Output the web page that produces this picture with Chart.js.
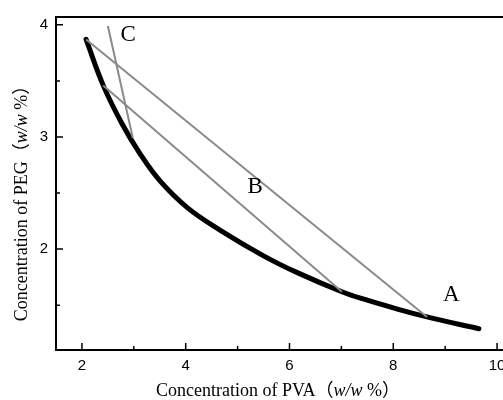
<!DOCTYPE html>
<html>
<head>
<meta charset="utf-8">
<script src="https://cdn.jsdelivr.net/npm/chart.js@4.4.1/dist/chart.umd.min.js"></script>
<style>
  html, body { margin: 0; padding: 0; background: #fff; overflow: hidden; width: 503px; height: 400px; }
  #wrap { width: 540px; height: 400px; }
</style>
</head>
<body>
<div id="wrap"><canvas id="c" width="540" height="400"></canvas></div>
<script>
// Binodal curve (PVA %, PEG %)
const curveX = [2.08, 2.41, 2.77, 3.12, 3.50, 4.03, 4.66, 5.50, 6.15, 7.01, 7.42, 8.08, 8.65, 9.65];
const curveY = [3.87, 3.46, 3.12, 2.85, 2.61, 2.37, 2.17, 1.94, 1.79, 1.62, 1.555, 1.465, 1.395, 1.29];
// Tie lines
const tieAX = [2.08, 8.65], tieAY = [3.87, 1.395];
const tieBX = [2.41, 7.01], tieBY = [3.46, 1.62];
const tieCX = [2.50, 2.98], tieCY = [3.99, 2.99];
// Point labels
const labelText = ['A', 'B', 'C'];
const labelX = [9.12, 5.34, 2.89];
const labelY = [1.59, 2.55, 3.91];
// Ticks
const xTicks = [2, 4, 6, 8, 10];
const xMinor = [3, 5, 7, 9];
const yTicks = [2, 3, 4];
const yMinor = [1.5, 2.5, 3.5];
const xTitle = [['Concentration of PVA', false], ['（', false], ['w/w', true], [' %）', false]];
const yTitle = [['Concentration of PEG', false], ['（', false], ['w/w', true], [' %）', false]];

const pts = (xs, ys) => xs.map((x, i) => ({ x: x, y: ys[i] }));
const SERIF = '"Liberation Serif", "Times New Roman", "Noto Sans CJK SC", serif';
const SANS = '"Liberation Sans", Arial, sans-serif';

const decor = {
  id: 'decor',
  afterDraw(chart) {
    const ctx = chart.ctx, a = chart.chartArea;
    const xs = chart.scales.x, ys = chart.scales.y;
    ctx.save();
    // frame
    ctx.strokeStyle = '#000';
    ctx.lineWidth = 2;
    ctx.strokeRect(a.left, a.top, a.right - a.left, a.bottom - a.top);
    // inward ticks
    ctx.lineWidth = 1.5;
    ctx.beginPath();
    xTicks.forEach(v => { const p = xs.getPixelForValue(v); ctx.moveTo(p, a.bottom); ctx.lineTo(p, a.bottom - 7); });
    xMinor.forEach(v => { const p = xs.getPixelForValue(v); ctx.moveTo(p, a.bottom); ctx.lineTo(p, a.bottom - 4); });
    yTicks.forEach(v => { const p = ys.getPixelForValue(v); ctx.moveTo(a.left, p); ctx.lineTo(a.left + 7, p); });
    yMinor.forEach(v => { const p = ys.getPixelForValue(v); ctx.moveTo(a.left, p); ctx.lineTo(a.left + 4, p); });
    ctx.stroke();
    // labels A B C
    ctx.fillStyle = '#000';
    ctx.font = '23px ' + SERIF;
    ctx.textAlign = 'center';
    ctx.textBaseline = 'middle';
    labelText.forEach((t, i) => ctx.fillText(t, xs.getPixelForValue(labelX[i]), ys.getPixelForValue(labelY[i])));
    // axis titles with italic parts
    const drawTitle = (parts, cx, cy, rot) => {
      ctx.save();
      ctx.translate(cx, cy);
      ctx.rotate(rot);
      ctx.textAlign = 'left';
      ctx.textBaseline = 'middle';
      const fontFor = it => (it ? 'italic ' : '') + '18px ' + SERIF;
      let total = 0;
      parts.forEach(p => { ctx.font = fontFor(p[1]); total += ctx.measureText(p[0]).width; });
      let x = -total / 2;
      parts.forEach(p => { ctx.font = fontFor(p[1]); ctx.fillText(p[0], x, 0); x += ctx.measureText(p[0]).width; });
      ctx.restore();
    };
    drawTitle(xTitle, 278, 391, 0);
    drawTitle(yTitle, 22, 199, -Math.PI / 2);
    ctx.restore();
  }
};

new Chart(document.getElementById('c'), {
  type: 'line',
  data: {
    datasets: [
      { data: pts(curveX, curveY), borderColor: '#000', borderWidth: 5, tension: 0.4, pointRadius: 0, order: 2, borderCapStyle: 'round' },
      { data: pts(tieAX, tieAY), borderColor: '#8a8a8a', borderWidth: 2, pointRadius: 0, order: 1 },
      { data: pts(tieBX, tieBY), borderColor: '#8a8a8a', borderWidth: 2, pointRadius: 0, order: 1 },
      { data: pts(tieCX, tieCY), borderColor: '#8a8a8a', borderWidth: 2, pointRadius: 0, order: 1 }
    ]
  },
  options: {
    responsive: false,
    animation: false,
    devicePixelRatio: 1,
    layout: { padding: { top: 15, right: 17, left: 0, bottom: 0 } },
    plugins: { legend: { display: false }, tooltip: { enabled: false } },
    scales: {
      x: {
        type: 'linear', min: 1.5, max: 10.5,
        grid: { display: false, drawTicks: false },
        border: { display: false },
        ticks: { color: '#000', padding: 7, font: { family: SANS, size: 15 } },
        afterBuildTicks: s => { s.ticks = xTicks.map(v => ({ value: v })); },
        afterFit: s => { s.height = 50; }
      },
      y: {
        type: 'linear', min: 1.1, max: 4.07,
        grid: { display: false, drawTicks: false },
        border: { display: false },
        ticks: { color: '#000', padding: 8, font: { family: SANS, size: 15 } },
        afterBuildTicks: s => { s.ticks = yTicks.map(v => ({ value: v })); },
        afterFit: s => { s.width = 56; }
      }
    }
  },
  plugins: [decor]
});
</script>
</body>
</html>
